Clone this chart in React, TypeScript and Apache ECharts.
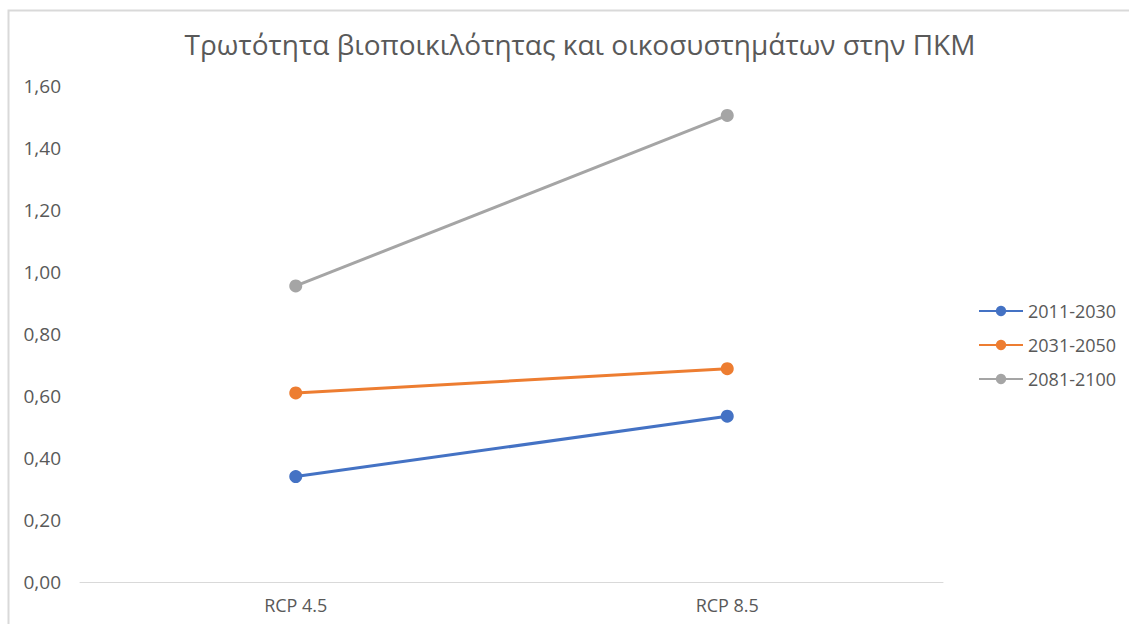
import React, { useEffect, useRef } from "react";
import * as echarts from "echarts";

const categories = ["RCP 4.5", "RCP 8.5"];
const seriesNames = ["2011-2030", "2031-2050", "2081-2100"];
const values2011 = [0.34, 0.535];
const values2031 = [0.61, 0.688];
const values2081 = [0.955, 1.505];
const colors = ["#4472C4", "#ED7D31", "#A5A5A5"];
const titleText = "Τρωτότητα βιοποικιλότητας και οικοσυστημάτων στην ΠΚΜ";

export default function App() {
  const ref = useRef<HTMLDivElement>(null);
  useEffect(() => {
    if (!ref.current) return;
    const chart = echarts.init(ref.current, null, { renderer: "svg" });
    const data = [values2011, values2031, values2081];
    chart.setOption({
      animation: false,
      backgroundColor: "#ffffff",
      textStyle: { fontFamily: "Open Sans" },
      graphic: [
        {
          type: "rect",
          shape: { x: 8.5, y: 10.5, width: 1200, height: 700 },
          style: { fill: "none", stroke: "#d9d9d9", lineWidth: 2 },
          silent: true,
        },
      ],
      title: {
        text: titleText,
        left: 575,
        textAlign: "center",
        top: 25,
        textStyle: { fontFamily: "Open Sans", fontSize: 28, fontWeight: "normal", color: "#595959" },
      },
      legend: {
        orient: "vertical",
        left: 973,
        top: 297,
        itemGap: 16,
        itemWidth: 44,
        itemHeight: 13,
        data: seriesNames,
        textStyle: { fontFamily: "Open Sans", fontSize: 18, color: "#595959" },
      },
      grid: { left: 80, right: 186, top: 86, bottom: 42 },
      xAxis: {
        type: "category",
        data: categories,
        boundaryGap: true,
        axisLine: { lineStyle: { color: "#d9d9d9", width: 1 } },
        axisTick: { show: false },
        axisLabel: { color: "#595959", fontSize: 18, margin: 14, fontFamily: "Open Sans" },
      },
      yAxis: {
        type: "value",
        min: 0,
        max: 1.6,
        interval: 0.2,
        splitLine: { show: false },
        axisLine: { show: false },
        axisTick: { show: false },
        axisLabel: {
          color: "#595959",
          fontSize: 19,
          margin: 19,
          fontFamily: "Open Sans",
          formatter: (v: number) => v.toFixed(2).replace(".", ","),
        },
      },
      series: seriesNames.map((name, i) => ({
        name,
        type: "line",
        data: data[i],
        symbol: "circle",
        symbolSize: 13,
        color: colors[i],
        lineStyle: { width: 3, color: colors[i] },
        itemStyle: { color: colors[i] },
      })),
    });
    return () => chart.dispose();
  }, []);
  return (
    <div
      ref={ref}
      style={{ position: "absolute", left: 0, top: 0, width: 1129, height: 624 }}
    />
  );
}
